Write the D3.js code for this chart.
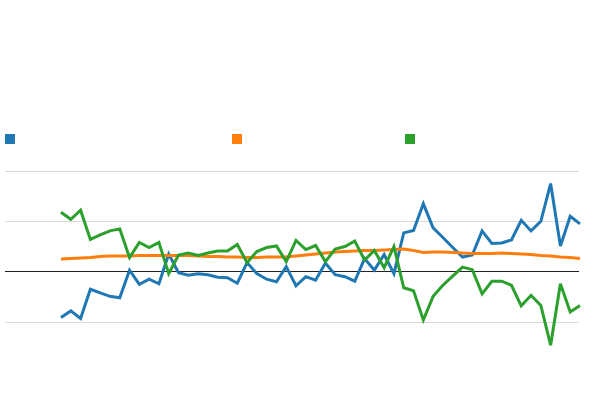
<!DOCTYPE html>
<html>
<head>
<meta charset="utf-8">
<script src="https://cdn.jsdelivr.net/npm/d3@7"></script>
<style>
  body { margin: 0; background: #fff; }
  svg { display: block; }
</style>
</head>
<body>
<div id="chart"></div>
<script>
var width = 600
var height = 405

var seriesNames = ['A', 'B', 'C']
var colors = ['#1f77b4', '#ff7f0e', '#2ca02c']
var gridTicks = [2, 1, 0, -1]

var blue = [-0.91, -0.78, -0.93, -0.35, -0.42, -0.49, -0.52, 0.03, -0.25, -0.15,
  -0.24, 0.35, -0.02, -0.07, -0.04, -0.06, -0.11, -0.12, -0.23, 0.18,
  -0.04, -0.15, -0.20, 0.10, -0.28, -0.10, -0.17, 0.17, -0.06, -0.10,
  -0.19, 0.26, 0.03, 0.34, -0.04, 0.77, 0.82, 1.35, 0.87, 0.68,
  0.48, 0.29, 0.33, 0.81, 0.56, 0.57, 0.63, 1.02, 0.81, 1.00,
  1.75, 0.51, 1.10, 0.95]

var orange = [0.25, 0.26, 0.27, 0.28, 0.30, 0.31, 0.31, 0.31, 0.32, 0.32,
  0.32, 0.32, 0.32, 0.32, 0.31, 0.30, 0.30, 0.29, 0.29, 0.28,
  0.28, 0.29, 0.29, 0.29, 0.31, 0.33, 0.35, 0.37, 0.39, 0.40,
  0.41, 0.42, 0.42, 0.43, 0.44, 0.45, 0.42, 0.38, 0.39, 0.39,
  0.38, 0.37, 0.36, 0.36, 0.36, 0.37, 0.36, 0.35, 0.34, 0.32,
  0.31, 0.29, 0.28, 0.26]

var green = [1.18, 1.04, 1.22, 0.64, 0.73, 0.81, 0.85, 0.28, 0.58, 0.48,
  0.58, -0.04, 0.33, 0.37, 0.32, 0.37, 0.41, 0.41, 0.54, 0.18,
  0.40, 0.48, 0.51, 0.20, 0.62, 0.44, 0.52, 0.20, 0.45, 0.50,
  0.61, 0.23, 0.42, 0.08, 0.50, -0.32, -0.38, -0.96, -0.49, -0.27,
  -0.09, 0.09, 0.04, -0.44, -0.19, -0.19, -0.27, -0.68, -0.47, -0.67,
  -1.46, -0.24, -0.80, -0.67]

var series = [blue, orange, green]

var svg = d3.select('#chart').append('svg')
  .attr('width', width)
  .attr('height', height)

var x = d3.scaleLinear().domain([0, blue.length - 1]).range([61, 580])
var y = d3.scaleLinear().domain([-1, 2]).range([322, 171])

// grid, zero line drawn darker
svg.append('g').selectAll('line')
  .data(gridTicks)
  .join('line')
    .attr('x1', 5)
    .attr('x2', 579)
    .attr('y1', d => Math.floor(y(d)) + 0.5)
    .attr('y2', d => Math.floor(y(d)) + 0.5)
    .attr('stroke', d => d === 0 ? '#222' : '#d9d9d9')
    .attr('stroke-width', 1)

// legend swatches (no labels)
var legendX = [5, 232, 405]
svg.append('g').selectAll('rect')
  .data(seriesNames)
  .join('rect')
    .attr('x', (d, i) => legendX[i])
    .attr('y', 134)
    .attr('width', 10)
    .attr('height', 10)
    .attr('fill', (d, i) => colors[i])

var line = d3.line()
  .x((d, i) => x(i))
  .y(d => y(d))

svg.append('g').selectAll('path')
  .data(series)
  .join('path')
    .attr('d', line)
    .attr('fill', 'none')
    .attr('stroke', (d, i) => colors[i])
    .attr('stroke-width', 3)
</script>
</body>
</html>
